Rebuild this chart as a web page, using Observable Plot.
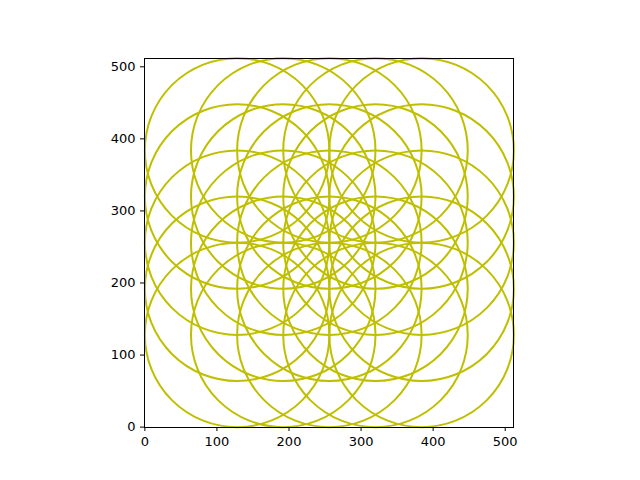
<!DOCTYPE html>
<html>
<head>
<meta charset="utf-8">
<script src="https://cdn.jsdelivr.net/npm/d3@7"></script>
<script src="https://cdn.jsdelivr.net/npm/@observablehq/plot@0.6"></script>
<style>
  body { margin: 0; background: #fff; }
</style>
</head>
<body>
<div id="chart"></div>
<script>
// circle centres on a 5x5 grid, all with the same radius
const centresX = [128, 192, 256, 320, 384]
const centresY = [128, 192, 256, 320, 384]
const radius = 128
const ticks = [0, 100, 200, 300, 400, 500]

const circles = centresX.flatMap(x => centresY.map(y => ({x, y, r: radius})))

const plotW = 369 // inner width in px, used so r scale matches data units

const chart = Plot.plot({
  width: 640,
  height: 480,
  marginLeft: 144,
  marginRight: 127,
  marginTop: 58,
  marginBottom: 53,
  style: {fontFamily: 'DejaVu Sans', fontSize: '13px', color: '#000'},
  x: {domain: [-0.5, 511.5], ticks: ticks, tickSize: 4, label: null},
  y: {domain: [-0.5, 511.5], ticks: ticks, tickSize: 4, label: null},
  r: {type: 'linear', domain: [0, 512], range: [0, plotW]},
  marks: [
    Plot.dot(circles, {x: 'x', y: 'y', r: 'r', stroke: '#bfbf00', strokeWidth: 2, fill: 'none'}),
    Plot.frame({stroke: '#000'}),
  ],
})

d3.select('#chart').append(() => chart)
</script>
</body>
</html>
